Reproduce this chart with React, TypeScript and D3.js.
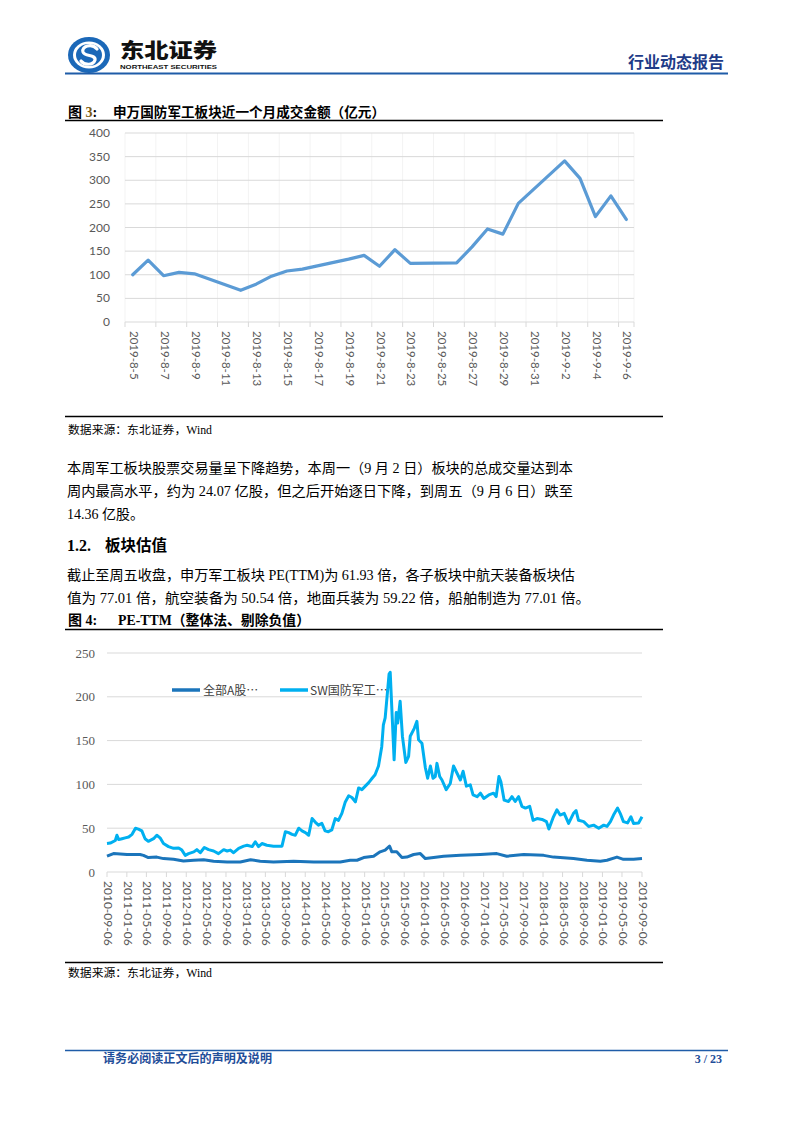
import React from "react";
import * as d3 from "d3";

// ---------- Chart 1 data: 申万国防军工板块近一个月成交金额（亿元） ----------
const volDates = [
  "2019-8-5", "2019-8-6", "2019-8-7", "2019-8-8", "2019-8-9",
  "2019-8-12", "2019-8-13", "2019-8-14", "2019-8-15", "2019-8-16",
  "2019-8-19", "2019-8-20", "2019-8-21", "2019-8-22", "2019-8-23",
  "2019-8-26", "2019-8-27", "2019-8-28", "2019-8-29", "2019-8-30",
  "2019-9-2", "2019-9-3", "2019-9-4", "2019-9-5", "2019-9-6",
];
const volValues = [
  100, 131, 98, 105, 102,
  67, 80, 97, 108, 112,
  133, 141, 118, 153, 124,
  125, 159, 197, 186, 251,
  341, 304, 223, 267, 217,
];
const volTickLabels = [
  "2019-8-5", "2019-8-7", "2019-8-9", "2019-8-11", "2019-8-13", "2019-8-15",
  "2019-8-17", "2019-8-19", "2019-8-21", "2019-8-23", "2019-8-25", "2019-8-27",
  "2019-8-29", "2019-8-31", "2019-9-2", "2019-9-4", "2019-9-6",
];
const volYTicks = [0, 50, 100, 150, 200, 250, 300, 350, 400];

// ---------- Chart 2 data: PE-TTM ----------
const seriesNames = ["全部A股…", "SW国防军工…"];
const swDates = [
  "2010-09-06", "2010-09-26", "2010-10-27", "2010-11-06", "2010-11-17", "2010-12-07", "2010-12-27",
  "2011-01-17", "2011-02-07", "2011-02-28", "2011-03-18", "2011-04-08", "2011-04-28", "2011-05-18",
  "2011-06-19", "2011-07-09", "2011-07-29", "2011-08-19", "2011-09-19", "2011-10-20", "2011-11-20",
  "2011-12-10", "2011-12-31", "2012-01-20", "2012-02-21", "2012-03-11", "2012-04-01", "2012-04-26",
  "2012-05-22", "2012-06-22", "2012-07-22", "2012-08-23", "2012-09-13", "2012-10-03", "2012-10-23",
  "2012-11-23", "2012-12-24", "2013-01-14", "2013-02-14", "2013-03-05", "2013-03-25", "2013-04-15",
  "2013-05-15", "2013-06-25", "2013-08-16", "2013-09-06", "2013-09-26", "2013-10-17", "2013-11-06",
  "2013-11-27", "2013-12-17", "2014-01-07", "2014-01-27", "2014-02-17", "2014-03-08", "2014-03-28",
  "2014-04-18", "2014-05-08", "2014-05-28", "2014-06-18", "2014-07-09", "2014-07-29", "2014-08-19",
  "2014-09-09", "2014-09-30", "2014-10-20", "2014-11-10", "2014-11-30", "2014-12-20", "2015-01-10",
  "2015-01-31", "2015-02-21", "2015-03-11", "2015-04-01", "2015-04-21", "2015-05-01", "2015-05-12",
  "2015-05-26", "2015-06-05", "2015-06-12", "2015-06-26", "2015-07-06", "2015-07-19", "2015-07-28",
  "2015-08-12", "2015-08-26", "2015-09-16", "2015-10-03", "2015-10-13", "2015-11-07", "2015-11-23",
  "2015-12-03", "2015-12-24", "2016-01-14", "2016-01-28", "2016-02-14", "2016-03-01", "2016-03-15",
  "2016-03-25", "2016-04-11", "2016-04-25", "2016-05-21", "2016-06-15", "2016-07-05", "2016-07-26",
  "2016-08-16", "2016-09-02", "2016-09-22", "2016-10-16", "2016-11-02", "2016-11-27", "2016-12-17",
  "2017-01-07", "2017-02-07", "2017-03-08", "2017-03-24", "2017-04-10", "2017-04-22", "2017-05-12",
  "2017-06-08", "2017-06-29", "2017-07-19", "2017-08-09", "2017-08-29", "2017-09-20", "2017-10-16",
  "2017-11-06", "2017-11-30", "2017-12-31", "2018-01-27", "2018-02-11", "2018-03-11", "2018-04-01",
  "2018-04-21", "2018-05-16", "2018-06-12", "2018-07-12", "2018-07-28", "2018-08-12", "2018-09-13",
  "2018-10-13", "2018-11-13", "2018-12-14", "2019-01-14", "2019-02-03", "2019-02-24", "2019-03-15",
  "2019-04-09", "2019-04-25", "2019-05-15", "2019-06-09", "2019-06-30", "2019-07-16", "2019-08-16",
  "2019-09-06",
];
const swValues = [
  32.5, 33, 36, 42, 37, 38, 39,
  40, 43, 50, 49, 47, 38, 35,
  38, 42, 39, 32.5, 29, 27, 27.5,
  25, 19, 21, 23, 25.5, 22, 28,
  25.5, 24, 21, 25.5, 24, 25, 22,
  27, 29.5, 30.5, 29, 34.5, 29, 32.5,
  30.5, 29.5, 29.5, 46, 45, 43, 42,
  50, 47, 45, 42, 61, 57, 53.5,
  55.5, 47, 46, 48, 61, 59, 67,
  80, 87, 85, 80, 96, 94, 98,
  102, 107, 111, 121, 143, 168, 176,
  205, 226, 228, 170, 128, 182, 170,
  195, 155, 125, 132, 155, 164, 172,
  151, 147, 119, 107, 121, 107, 109,
  124, 109, 105, 94, 101, 121, 113,
  105, 115, 98, 99.5, 88, 86, 90,
  84, 88, 90, 86, 109, 103, 82,
  80.5, 86, 80.5, 86, 75, 73, 75,
  59, 61, 60, 57.5, 49, 63, 71,
  65, 67, 55.5, 67, 70, 59, 57.5,
  52, 53.5, 50, 53.5, 52, 57.5, 65,
  73, 67, 57.5, 56, 63, 55.5, 56,
  63,
];
const allADates = [
  "2010-09-06", "2010-10-16", "2011-01-07", "2011-03-28", "2011-04-18", "2011-05-18", "2011-07-09",
  "2011-08-19", "2011-10-20", "2011-12-20", "2012-02-21", "2012-04-22", "2012-06-22", "2012-09-13",
  "2012-12-03", "2013-02-04", "2013-04-04", "2013-06-25", "2013-10-27", "2014-02-27", "2014-05-18",
  "2014-08-09", "2014-10-09", "2014-11-20", "2014-12-31", "2015-03-02", "2015-04-11", "2015-05-12",
  "2015-06-08", "2015-06-22", "2015-07-22", "2015-08-23", "2015-09-22", "2015-11-03", "2015-12-14",
  "2016-01-14", "2016-03-05", "2016-05-05", "2016-08-16", "2016-12-17", "2017-03-28", "2017-05-28",
  "2017-09-09", "2018-01-10", "2018-03-11", "2018-07-12", "2018-10-03", "2018-12-24", "2019-02-03",
  "2019-04-05", "2019-05-15", "2019-07-16", "2019-09-06",
];
const allAValues = [
  18, 21, 20, 20, 19, 16.5, 17,
  15.3, 14.5, 12.6, 13.4, 14, 12.3, 11.5,
  11.5, 14, 12.3, 11.5, 12.3, 11.5, 11.5,
  11.5, 13.4, 13.4, 16.5, 18, 23, 25,
  29.5, 23, 23, 16.5, 17, 20, 21,
  15.3, 16.5, 18, 19, 20, 21, 18,
  20, 19, 17, 15.3, 13.4, 12.3, 13.4,
  17, 14.5, 14.5, 15.3,
];
const peTickLabels = [
  "2010-09-06", "2011-01-06", "2011-05-06", "2011-09-06", "2012-01-06", "2012-05-06", "2012-09-06",
  "2013-01-06", "2013-05-06", "2013-09-06", "2014-01-06", "2014-05-06", "2014-09-06", "2015-01-06",
  "2015-05-06", "2015-09-06", "2016-01-06", "2016-05-06", "2016-09-06", "2017-01-06", "2017-05-06",
  "2017-09-06", "2018-01-06", "2018-05-06", "2018-09-06", "2019-01-06", "2019-05-06", "2019-09-06",
];
const peYTicks = [0, 50, 100, 150, 200, 250];

// ---------- helpers ----------
const pd = (s: string, h = 0) => {
  const [y, m, d] = s.split("-").map(Number);
  return new Date(y, m - 1, d, h);
};

const SERIF = "'Liberation Serif', 'Times New Roman', 'Noto Sans CJK SC', serif";
const SANS = "Lato, 'Liberation Sans', 'Noto Sans CJK SC', sans-serif";
const CJK = "'Noto Sans CJK SC', sans-serif";

export default function App() {
  // Chart 1 scales
  const x1 = d3.scaleTime().domain([pd("2019-8-4", 12), pd("2019-9-6", 12)]).range([125, 634]);
  const y1 = d3.scaleLinear().domain([0, 400]).range([322, 133]);
  const volPts = volDates.map((d, i) => [x1(pd(d)), y1(volValues[i])] as [number, number]);
  const line1 = d3.line().curve(d3.curveLinear)(volPts) || "";
  const volTickMarks = volTickLabels.map((l) => x1(pd(l, -12))).concat([x1(pd("2019-9-6", 12))]);

  // Chart 2 scales
  const x2 = d3.scaleTime().domain([pd("2010-09-06"), pd("2019-09-06")]).range([107, 642]);
  const y2 = d3.scaleLinear().domain([0, 250]).range([872, 653]);
  const lineGen = d3.line().curve(d3.curveLinear);
  const swPath = lineGen(swDates.map((d, i) => [x2(pd(d)), y2(swValues[i])] as [number, number])) || "";
  const aPath = lineGen(allADates.map((d, i) => [x2(pd(d)), y2(allAValues[i])] as [number, number])) || "";

  const blue = "#1f5ca8";
  return (
    <svg
      width={793}
      height={1122}
      viewBox="0 0 793 1122"
      style={{ position: "absolute", left: 0, top: 0, background: "#fff" }}
    >
      <rect x={0} y={0} width={793} height={1122} fill="#fff" />
      {/* Header logo */}
      <ellipse cx={89} cy={55} rx={21} ry={18} fill="#1b68b8" />
      <ellipse cx={89} cy={55} rx={16} ry={13.5} fill="#fff" />
      <ellipse cx={89} cy={55} rx={13} ry={11} fill="#1b68b8" />
      <path
        d="M 97 49 C 92 43, 81 46, 83 52 C 85 57, 96 54, 95 60 C 93 66, 84 65, 81 61"
        fill="none"
        stroke="#fff"
        strokeWidth={3.2}
        strokeLinecap="round"
      />
      <text x={120} y={57.5} fontFamily={CJK} fontWeight={900} fontSize={20} fill="#111" textLength={97} lengthAdjust="spacingAndGlyphs">东北证券</text>
      <text x={120} y={69} fontFamily="'Liberation Sans', Arial, sans-serif" fontWeight={700} fontSize={6} fill="#111" textLength={97} lengthAdjust="spacingAndGlyphs">NORTHEAST SECURITIES</text>
      <line x1={65} x2={728} y1={73.5} y2={73.5} stroke={blue} strokeWidth={2} />
      <text x={724} y={68} textAnchor="end" fontFamily={CJK} fontWeight={700} fontSize={16} fill="#1f3c88">行业动态报告</text>

      {/* Chart 1 title */}
      <text x={68} y={117} fontFamily={SERIF} fontWeight={700} fontSize={14} fill="#000">
        图 <tspan fill="#7a5a10">3</tspan>:
      </text>
      <text x={113} y={117} fontFamily={CJK} fontWeight={700} fontSize={13.5} fill="#000" textLength={272} lengthAdjust="spacingAndGlyphs">申万国防军工板块近一个月成交金额（亿元）</text>
      <line x1={65} x2={663} y1={120.5} y2={120.5} stroke="#000" strokeWidth={1.3} />

      {/* Chart 1 grid */}
      {volTickMarks.map((x, i) => (
        <line key={"v" + i} x1={x} x2={x} y1={133} y2={322} stroke="#f3f3f3" strokeWidth={1} />
      ))}
      {volYTicks.map((t) => (
        <g key={"g1" + t}>
          <line x1={125} x2={634} y1={y1(t)} y2={y1(t)} stroke="#d9d9d9" strokeWidth={1} />
          <text x={110} y={y1(t) + 4} textAnchor="end" fontFamily={SANS} fontSize={12} fill="#595959">{t}</text>
        </g>
      ))}
      {volTickMarks.map((x, i) => (
        <line key={"t1" + i} x1={x} x2={x} y1={322} y2={327} stroke="#d9d9d9" strokeWidth={1} />
      ))}
      {volTickLabels.map((l) => (
        <text
          key={l}
          transform={`translate(${x1(pd(l))},331) rotate(90)`}
          fontFamily={SANS}
          fontSize={11.5}
          fill="#595959"
          dominantBaseline="middle"
        >{l}</text>
      ))}
      <path d={line1} fill="none" stroke="#5b9bd5" strokeWidth={3.2} strokeLinejoin="round" strokeLinecap="round" />
      <line x1={65} x2={663} y1={416.5} y2={416.5} stroke="#000" strokeWidth={1.3} />
      <text x={68} y={434} fontFamily={SERIF} fontSize={11.5} fill="#000" textLength={144} lengthAdjust="spacingAndGlyphs">数据来源：东北证券，Wind</text>

      {/* Paragraph 1 */}
      <text x={67} y={473} fontFamily={SERIF} fontSize={14} fill="#000" textLength={506} lengthAdjust="spacingAndGlyphs">本周军工板块股票交易量呈下降趋势，本周一（9 月 2 日）板块的总成交量达到本</text>
      <text x={67} y={496} fontFamily={SERIF} fontSize={14} fill="#000" textLength={506} lengthAdjust="spacingAndGlyphs">周内最高水平，约为 24.07 亿股，但之后开始逐日下降，到周五（9 月 6 日）跌至</text>
      <text x={67} y={519} fontFamily={SERIF} fontSize={14} fill="#000">14.36 亿股。</text>

      {/* Section 1.2 */}
      <text x={67} y={551} fontFamily={SERIF} fontWeight={700} fontSize={16} fill="#000">1.2.</text>
      <text x={105} y={551} fontFamily={CJK} fontWeight={700} fontSize={15.5} fill="#000">板块估值</text>
      <text x={67} y={580} fontFamily={SERIF} fontSize={14} fill="#000" textLength={508} lengthAdjust="spacingAndGlyphs">截止至周五收盘，申万军工板块 PE(TTM)为 61.93 倍，各子板块中航天装备板块估</text>
      <text x={67} y={603} fontFamily={SERIF} fontSize={14} fill="#000" textLength={523} lengthAdjust="spacingAndGlyphs">值为 77.01 倍，航空装备为 50.54 倍，地面兵装为 59.22 倍，船舶制造为 77.01 倍。</text>

      {/* Chart 2 title */}
      <text x={68} y={625} fontFamily={SERIF} fontWeight={700} fontSize={14} fill="#000">图 4:</text>
      <text x={118} y={625} fontFamily={SERIF} fontWeight={700} fontSize={14} fill="#000" textLength={192} lengthAdjust="spacingAndGlyphs">PE-TTM（整体法、剔除负值）</text>
      <line x1={65} x2={663} y1={629.5} y2={629.5} stroke="#000" strokeWidth={1.3} />

      {/* Chart 2 grid and axes */}
      {peYTicks.map((t) => (
        <g key={"g2" + t}>
          <line x1={107} x2={642} y1={y2(t)} y2={y2(t)} stroke="#d9d9d9" strokeWidth={1} />
          <text x={95} y={y2(t) + 4.5} textAnchor="end" fontFamily={SERIF} fontSize={13} fill="#595959">{t}</text>
        </g>
      ))}
      {peTickLabels.map((l) => (
        <g key={l}>
          <line x1={x2(pd(l))} x2={x2(pd(l))} y1={872} y2={877} stroke="#d9d9d9" strokeWidth={1} />
          <text
            transform={`translate(${x2(pd(l))},881) rotate(90)`}
            fontFamily={SANS}
            fontSize={12}
            fill="#595959"
            dominantBaseline="middle"
          >{l}</text>
        </g>
      ))}
      <path d={aPath} fill="none" stroke="#1b75bb" strokeWidth={3} strokeLinejoin="round" />
      <path d={swPath} fill="none" stroke="#00b0f0" strokeWidth={3} strokeLinejoin="round" />

      {/* Legend */}
      <line x1={172} x2={200} y1={690} y2={690} stroke="#1b75bb" strokeWidth={3.5} />
      <text x={203} y={694.5} fontFamily={CJK} fontSize={12} fill="#404040">{seriesNames[0]}</text>
      <line x1={280} x2={308} y1={690} y2={690} stroke="#00b0f0" strokeWidth={3.5} />
      <text x={310} y={694.5} fontFamily={CJK} fontSize={12} fill="#404040">{seriesNames[1]}</text>

      <line x1={65} x2={663} y1={962.5} y2={962.5} stroke="#000" strokeWidth={1.3} />
      <text x={68} y={977} fontFamily={SERIF} fontSize={11.5} fill="#000" textLength={144} lengthAdjust="spacingAndGlyphs">数据来源：东北证券，Wind</text>

      {/* Footer */}
      <line x1={65} x2={728} y1={1050.5} y2={1050.5} stroke={blue} strokeWidth={1.5} />
      <text x={103} y={1063} fontFamily={CJK} fontWeight={700} fontSize={12} fill="#1f4e99" textLength={169} lengthAdjust="spacingAndGlyphs">请务必阅读正文后的声明及说明</text>
      <text x={722} y={1063} textAnchor="end" fontFamily={SERIF} fontWeight={700} fontSize={12} fill="#1f4e99">3 / 23</text>
    </svg>
  );
}
